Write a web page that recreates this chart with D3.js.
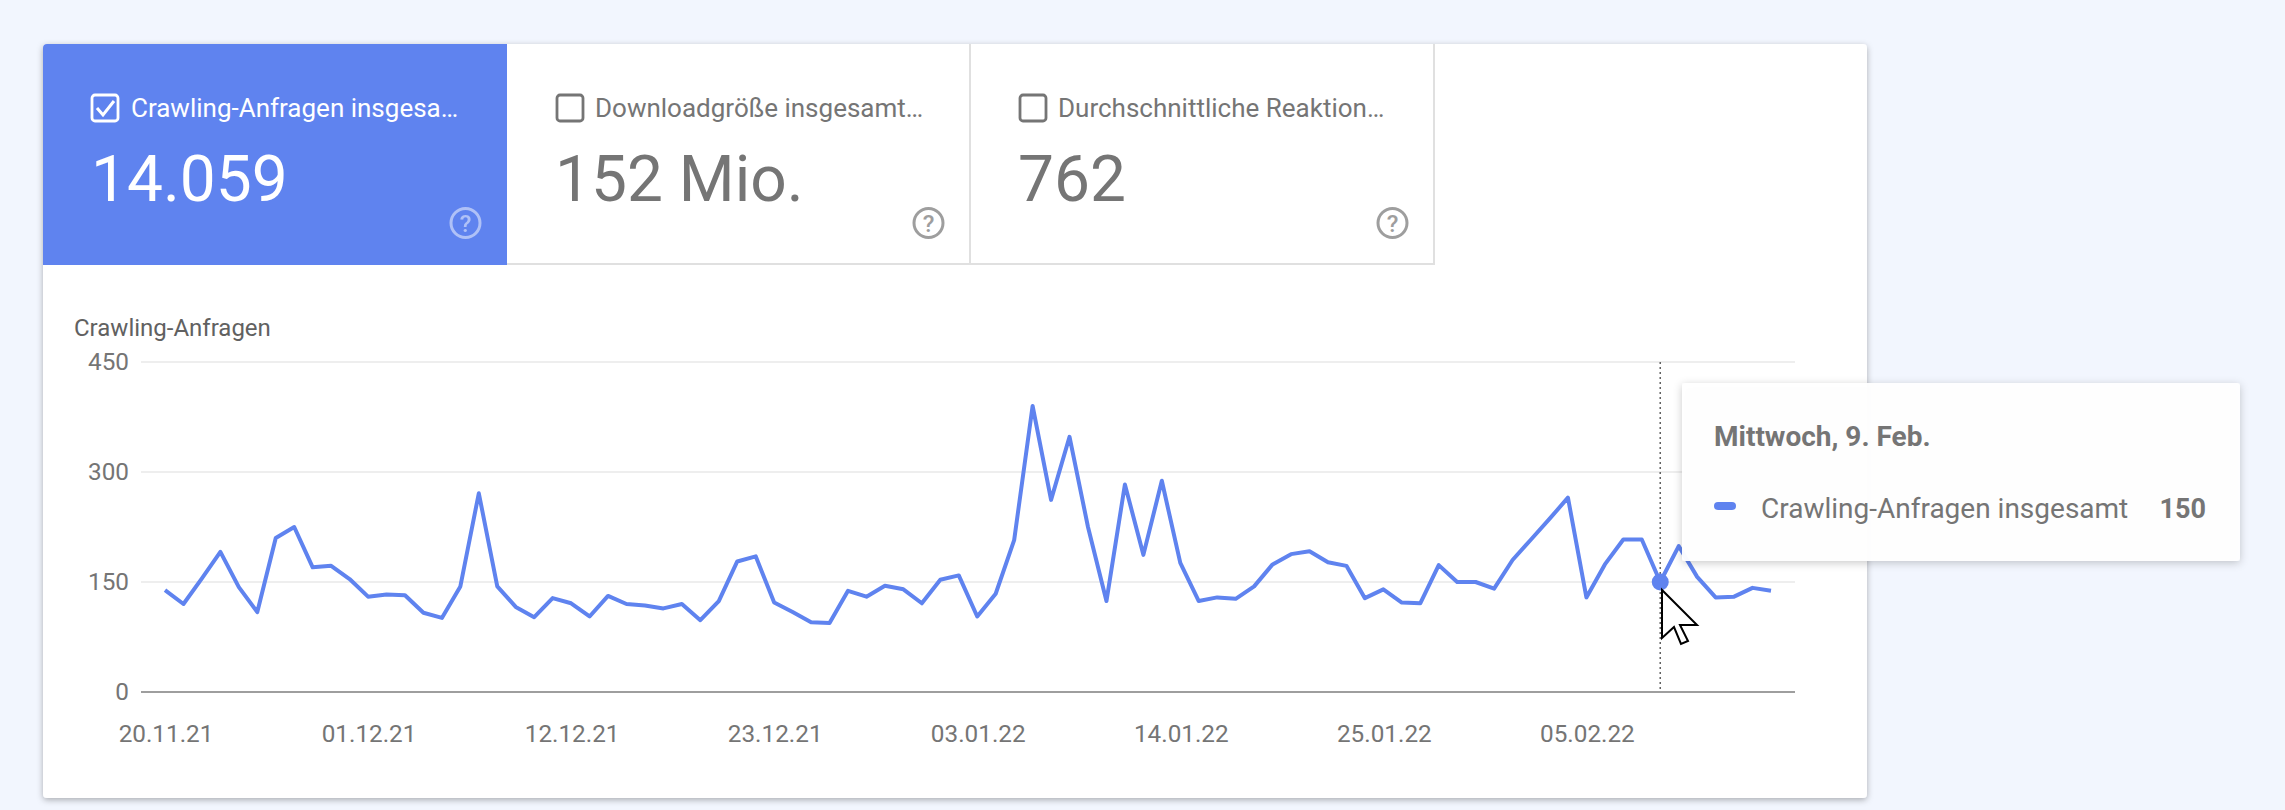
<!DOCTYPE html>
<html>
<head>
<meta charset="utf-8">
<script src="https://cdnjs.cloudflare.com/ajax/libs/d3/7.8.5/d3.min.js"></script>
<style>
  html, body { margin: 0; padding: 0; background: #f2f6fe; overflow: hidden; }
  text { font-family: Roboto, sans-serif; }
</style>
</head>
<body>
<div id="chart"></div>
<script>
// chart values
var startDate = "20.11.21";
var requests = [
  139, 120, 155, 191, 143, 109, 210, 225, 170, 172, 154, 130, 133, 132, 108, 101, 144, 271, 144, 116,
  102, 128, 121, 103, 131, 120, 118, 114, 120, 98, 124, 178, 185, 122, 109, 95, 94, 138, 130, 145,
  140, 121, 153, 159, 103, 134, 207, 390, 262, 348, 225, 124, 283, 187, 288, 176, 124, 129, 127, 144,
  174, 188, 192, 177, 172, 128, 140, 122, 121, 173, 150, 150, 141, 180, 208, 236, 265, 129, 174, 208,
  208, 150, 199, 157, 129, 130, 142, 138
];
var xTickLabels = ["20.11.21", "01.12.21", "12.12.21", "23.12.21", "03.01.22", "14.01.22", "25.01.22", "05.02.22"];
var yTicks = [0, 150, 300, 450];
var tabLabels = ["Crawling-Anfragen insgesa…", "Downloadgröße insgesamt…", "Durchschnittliche Reaktion…"];
var tabValues = ["14.059", "152 Mio.", "762"];
var axisTitle = "Crawling-Anfragen";
var hoverIndex = 81;
var hoverTitle = "Mittwoch, 9. Feb.";
var hoverLabel = "Crawling-Anfragen insgesamt";

var BLUE = "#5f83ef", GREY = "#757575";
var parseDate = d3.utcParse("%d.%m.%y");
var formatDate = d3.utcFormat("%d.%m.%y");
var dayMs = 24 * 3600 * 1000;
var dates = requests.map((v, i) => new Date(parseDate(startDate).getTime() + i * dayMs));

var svg = d3.select("#chart").append("svg")
  .attr("width", 2285)
  .attr("height", 810)
  .style("display", "block");

var defs = svg.append("defs");
var cardShadow = defs.append("filter").attr("id", "cardShadow")
  .attr("x", "-5%").attr("y", "-5%").attr("width", "110%").attr("height", "110%");
cardShadow.append("feDropShadow").attr("dx", 0).attr("dy", 2).attr("stdDeviation", 3)
  .attr("flood-color", "#000").attr("flood-opacity", 0.3);
var tipShadow = defs.append("filter").attr("id", "tipShadow")
  .attr("x", "-5%").attr("y", "-10%").attr("width", "110%").attr("height", "120%");
tipShadow.append("feDropShadow").attr("dx", 0).attr("dy", 2).attr("stdDeviation", 4)
  .attr("flood-color", "#000").attr("flood-opacity", 0.22);

// card
svg.append("rect")
  .attr("x", 43).attr("y", 44).attr("width", 1824).attr("height", 754)
  .attr("rx", 4)
  .attr("fill", "#fff")
  .attr("filter", "url(#cardShadow)");

// tabs
var tabEdges = [43, 507, 970, 1434];
tabLabels.forEach((label, i) => {
  var x0 = tabEdges[i], x1 = tabEdges[i + 1];
  var active = i === 0;
  var ink = active ? "#fff" : GREY;
  var g = svg.append("g");
  if (active) {
    g.append("path")
      .attr("d", `M${x0} 265V48a4 4 0 0 1 4-4H${x1}V265Z`)
      .attr("fill", BLUE);
  } else {
    g.append("rect").attr("x", x0).attr("y", 263).attr("width", x1 - x0).attr("height", 2).attr("fill", "#e0e0e0");
    g.append("rect").attr("x", x1 - 1).attr("y", 44).attr("width", 2).attr("height", 221).attr("fill", "#e0e0e0");
  }
  var bx = x0 + (active ? 49 : 50);
  g.append("rect")
    .attr("x", bx).attr("y", 95).attr("width", 26).attr("height", 26).attr("rx", 3)
    .attr("fill", "none").attr("stroke", ink).attr("stroke-width", 2.8);
  if (active) {
    g.append("path")
      .attr("d", `M${bx + 5} ${108}l6 7l11 -14`)
      .attr("fill", "none").attr("stroke", "#fff").attr("stroke-width", 3);
  }
  g.append("text")
    .attr("x", x0 + 88).attr("y", 117)
    .attr("font-size", 26)
    .attr("fill", ink)
    .text(label);
  g.append("text")
    .attr("x", x0 + 48).attr("y", 201)
    .attr("font-size", 64)
    .attr("fill", ink)
    .text(tabValues[i]);
  var cx = x1 - 41.5;
  var helpOpacity = active ? 0.5 : 1;
  g.append("circle")
    .attr("cx", cx).attr("cy", 223).attr("r", 14.5)
    .attr("fill", "none")
    .attr("stroke", active ? "#fff" : "#9e9e9e")
    .attr("stroke-width", 3)
    .attr("opacity", helpOpacity);
  g.append("text")
    .attr("x", cx).attr("y", 232)
    .attr("text-anchor", "middle")
    .attr("font-size", 24)
    .attr("font-weight", 500)
    .attr("fill", active ? "#fff" : "#9e9e9e")
    .attr("opacity", helpOpacity)
    .text("?");
});

// scales
var x = d3.scaleUtc()
  .domain([dates[0], dates[dates.length - 1]])
  .range([165, 1771]);
var y = d3.scaleLinear()
  .domain([0, 450])
  .range([692, 362]);

svg.append("text")
  .attr("x", 74).attr("y", 336)
  .attr("font-size", 24)
  .attr("fill", "#616161")
  .text(axisTitle);

// grid lines and y labels
var yAxis = d3.axisLeft(y).tickValues(yTicks).tickSize(0).tickPadding(0);
var yG = svg.append("g").attr("transform", "translate(129,0)").call(yAxis);
yG.select(".domain").remove();
yG.selectAll("text").attr("font-size", 24.3).attr("fill", GREY).attr("font-family", "Roboto, sans-serif");

svg.append("g").selectAll("line")
  .data(yTicks)
  .join("line")
  .attr("x1", 141).attr("x2", 1795)
  .attr("y1", d => y(d)).attr("y2", d => y(d))
  .attr("stroke", d => d === 0 ? "#9e9e9e" : "#eeeeee")
  .attr("stroke-width", 2);

// x labels
var xAxis = d3.axisBottom(x)
  .tickValues(xTickLabels.map(d => parseDate(d)))
  .tickFormat(formatDate)
  .tickSize(0)
  .tickPadding(0);
var xG = svg.append("g").attr("transform", "translate(0.5,725)").call(xAxis);
xG.select(".domain").remove();
xG.selectAll("text").attr("font-size", 24.3).attr("fill", GREY).attr("font-family", "Roboto, sans-serif");

// hover rule
svg.append("line")
  .attr("x1", x(dates[hoverIndex])).attr("x2", x(dates[hoverIndex]))
  .attr("y1", y(450)).attr("y2", y(0))
  .attr("stroke", "#616161").attr("stroke-width", 1.5)
  .attr("stroke-dasharray", "2 3");

// series
var line = d3.line()
  .x((d, i) => x(dates[i]))
  .y(d => y(d));
svg.append("path")
  .datum(requests)
  .attr("d", line)
  .attr("fill", "none")
  .attr("stroke", BLUE)
  .attr("stroke-width", 4)
  .attr("stroke-linejoin", "round");

svg.append("circle")
  .attr("cx", x(dates[hoverIndex]))
  .attr("cy", y(requests[hoverIndex]))
  .attr("r", 8.5)
  .attr("fill", BLUE);

// mouse cursor
svg.append("path")
  .attr("d", "M1662 590V638L1674 627L1681 644L1688 641L1680 625H1697Z")
  .attr("fill", "#fff").attr("stroke", "#000").attr("stroke-width", 2);

// tooltip
var tip = svg.append("g");
tip.append("rect")
  .attr("x", 1682).attr("y", 383).attr("width", 558).attr("height", 178)
  .attr("rx", 3)
  .attr("fill", "#fff").attr("fill-opacity", 0.96)
  .attr("filter", "url(#tipShadow)");
tip.append("text")
  .attr("x", 1714).attr("y", 446)
  .attr("font-size", 28).attr("font-weight", 700)
  .attr("fill", GREY)
  .text(hoverTitle);
tip.append("rect")
  .attr("x", 1714).attr("y", 502).attr("width", 22).attr("height", 8).attr("rx", 4)
  .attr("fill", BLUE);
tip.append("text")
  .attr("x", 1761).attr("y", 518)
  .attr("font-size", 28)
  .attr("fill", GREY)
  .text(hoverLabel);
tip.append("text")
  .attr("x", 2206).attr("y", 518)
  .attr("text-anchor", "end")
  .attr("font-size", 27)
  .attr("font-weight", 700)
  .attr("fill", GREY)
  .text(requests[hoverIndex]);
</script>
</body>
</html>
